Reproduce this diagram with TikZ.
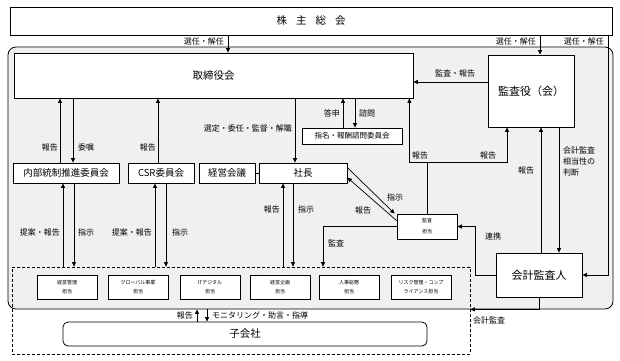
\documentclass[tikz,border=0pt]{standalone}
\usepackage{fontspec}
\setmainfont{Noto Sans CJK JP}
\usetikzlibrary{arrows.meta}

\begin{document}
\begin{tikzpicture}[
  x=1pt,
  y=-1pt,
  box/.style={draw=black,fill=white,line width=0.8pt,inner sep=0pt,align=center},
  tanto/.style={box,minimum width=60pt,minimum height=24pt,font=\fontsize{5}{9}\selectfont},
  arr/.style={-{Triangle[length=4.5pt,width=4pt]},line width=0.7pt},
  lab/.style={inner sep=0pt,align=left,font=\fontsize{8}{11}\selectfont},
  big/.style={font=\fontsize{10.5}{12}\selectfont},
  mid/.style={font=\fontsize{9.5}{11}\selectfont}
]
\useasboundingbox (0,0) rectangle (620,360);
% company area and group area
\node[draw=black,line width=0.8pt,fill=black!6,rounded corners=8pt,minimum width=605pt,minimum height=262pt,inner sep=0pt] (area) at (310.5,178) {};
\node[draw=black,line width=0.7pt,dash pattern=on 3pt off 2pt,minimum width=458pt,minimum height=87pt,inner sep=0pt] (bumon) at (241,310.5) {};

% bodies
\node[box,big,minimum width=602pt,minimum height=28pt] (kabu) at (311,21) {株\hspace{9pt}主\hspace{9pt}総\hspace{9pt}会};
\node[box,big,minimum width=399pt,minimum height=45pt] (tori) at (213.5,75.5) {取締役会};
\node[box,font=\fontsize{11}{13}\selectfont,minimum width=86pt,minimum height=72pt] (kansa) at (531,91) {監査役（会）};
\node[box,font=\fontsize{7.5}{9}\selectfont,minimum width=100pt,minimum height=16pt] (shimei) at (352,136) {指名・報酬諮問委員会};
\node[box,mid,minimum width=106pt,minimum height=20pt] (naibu) at (66,173) {内部統制推進委員会};
\node[box,mid,minimum width=66pt,minimum height=20pt] (csr) at (161,173) {CSR委員会};
\node[box,mid,minimum width=56pt,minimum height=20pt] (keiei) at (227,173) {経営会議};
\node[box,mid,minimum width=88pt,minimum height=20pt] (shacho) at (303,173) {社長};
\node[box,font=\fontsize{5}{11}\selectfont,minimum width=60pt,minimum height=25pt] (kantan) at (427,226.5) {監査\\担当};
\node[box,font=\fontsize{11}{13}\selectfont,minimum width=86pt,minimum height=44pt] (kaikei) at (539,275) {会計監査人};
\foreach \n/\x/\t in {1/67/{経営管理\\担当},2/138/{グローバル事業\\担当},3/210/{ITデジタル\\担当},
                      4/280/{経営企画\\担当},5/349/{人事総務\\担当},6/421/{リスク管理・コンプ\\ライアンス担当}} {
  \node[tanto] (t\n) at (\x,287) {\t};
}
\node[box,big,rounded corners=5pt,minimum width=364pt,minimum height=24pt] (ko) at (245,334) {子会社};

% shareholders
\draw[arr] ([xshift=14.5pt]tori.north |- kabu.south) -- ([xshift=14.5pt]tori.north);
\draw[arr] ([xshift=9pt]kansa.north |- kabu.south) -- ([xshift=9pt]kansa.north);
\draw[arr] ([xshift=-4pt]kabu.south east) |- (kaikei.east);
\node[lab,anchor=east] (ls1) at (224,41) {選任・解任};
\node[lab,anchor=east] (ls2) at (536,41) {選任・解任};
\node[lab,anchor=east] (ls3) at (604,41) {選任・解任};

% board
\draw[arr] ([yshift=9pt]kansa.west) -- ([yshift=9pt]kansa.west -| tori.east);
\node[lab] (lkh) at (455,73) {監査・報告};
\draw[arr] ([xshift=-9pt]shimei.north) -- ([xshift=-9pt]shimei.north |- tori.south);
\draw[arr] ([xshift=3pt]shimei.north |- tori.south) -- ([xshift=3pt]shimei.north);
\node[lab,anchor=east] (ltoshin) at (340,113) {答申};
\node[lab,anchor=west] (lshimon) at (359,113) {諮問};
\draw[arr] ([xshift=-6pt]naibu.north) -- ([xshift=-6pt]naibu.north |- tori.south);
\draw[arr] ([xshift=7pt]naibu.north |- tori.south) -- ([xshift=7pt]naibu.north);
\node[lab,anchor=east] (lnh) at (58,147) {報告};
\node[lab,anchor=west] (lishoku) at (78,147) {委嘱};
\draw[arr] ([xshift=-3pt]csr.north) -- ([xshift=-3pt]csr.north |- tori.south);
\node[lab,anchor=east] (lch) at (156,147) {報告};
\draw[arr] ([xshift=-8pt]shacho.north |- tori.south) -- ([xshift=-8pt]shacho.north);
\node[lab,anchor=east] (lsentei) at (292,128) {選定・委任・監督・解職};
\draw[line width=0.7pt] (keiei.east) -- (shacho.west);

% internal audit
\coordinate (hub) at (kantan.north |- shacho.north);
\draw[arr] (kantan.north) -- (hub) -| ([xshift=-4pt]tori.south east);
\draw[arr] (hub) -| ([xshift=-24pt]kansa.south);
\node[lab] (lh1) at (420,155) {報告};
\node[lab] (lh2) at (488,155) {報告};
\draw[arr] ([yshift=-5pt]shacho.north east) -- ([xshift=-2pt]kantan.north west);
\draw[arr] ([yshift=-7pt]kantan.north west) -- ([yshift=-15pt]shacho.north east);
\node[lab] (lsj) at (395,197) {指示};
\node[lab] (lsh) at (363,210) {報告};
\draw[arr] (kantan.west) -| ([xshift=82pt]bumon.north);
\node[lab] (lkansa) at (336,243) {監査};

% accounting auditor
\draw[arr] (kaikei.west) -| ([xshift=18pt]kantan.east) -- (kantan.east);
\node[lab] (lrenkei) at (493,236) {連携};
\draw[arr] ([xshift=10pt]kansa.south |- kaikei.north) -- ([xshift=10pt]kansa.south);
\draw[arr] ([xshift=28pt]kansa.south) -- ([xshift=28pt]kansa.south |- kaikei.north);
\node[lab] (lkh2) at (526,170) {報告};
\node[lab,anchor=west] (lsoto) at (563,161) {会計監査\\相当性の\\判断};
\draw[arr] (kaikei.south) |- (bumon.east |- area.south);
\node[lab,anchor=west] (lkaikei) at (473,320) {会計監査};

% divisions
\draw[arr] ([xshift=-3pt]naibu.south |- bumon.north) -- ([xshift=-3pt]naibu.south);
\draw[arr] ([xshift=8pt]naibu.south) -- ([xshift=8pt]naibu.south |- bumon.north);
\node[lab,anchor=east] (lt1) at (60,232) {提案・報告};
\node[lab,anchor=west] (ls1b) at (78,232) {指示};
\draw[arr] ([xshift=-6pt]csr.south |- bumon.north) -- ([xshift=-6pt]csr.south);
\draw[arr] ([xshift=5pt]csr.south) -- ([xshift=5pt]csr.south |- bumon.north);
\node[lab,anchor=east] (lt2) at (152,232) {提案・報告};
\node[lab,anchor=west] (ls2b) at (172,232) {指示};
\draw[arr] ([xshift=-20pt]shacho.south |- bumon.north) -- ([xshift=-20pt]shacho.south);
\draw[arr] ([xshift=-10pt]shacho.south) -- ([xshift=-10pt]shacho.south |- bumon.north);
\node[lab,anchor=east] (lt3) at (280,209) {報告};
\node[lab,anchor=west] (ls3b) at (298,209) {指示};

% subsidiaries
\draw[arr] ([xshift=-48pt]ko.north) -- ([xshift=-48pt]ko.north |- area.south);
\draw[arr] ([xshift=-38pt]ko.north |- area.south) -- ([xshift=-38pt]ko.north);
\node[lab,anchor=east] (lkoh) at (193,315) {報告};
\node[lab,anchor=west] (lmon) at (212,315) {モニタリング・助言・指導};
\end{tikzpicture}
\end{document}
